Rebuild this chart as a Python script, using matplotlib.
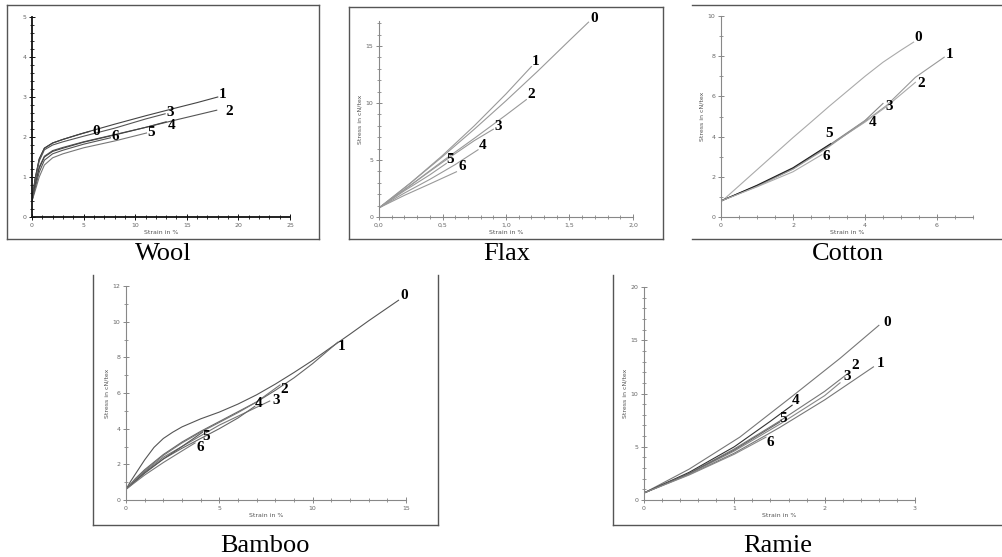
import numpy as np
import matplotlib.pyplot as plt
from matplotlib.lines import Line2D
from matplotlib.ticker import MultipleLocator

W, H = 1002, 557
curve_ids = ['0', '1', '2', '3', '4', '5', '6']

# ---- Wool ----
wool_x = [
    [0, 0.3, 0.7, 1.2, 2, 3, 4.5, 5.6],
    [0, 0.3, 0.7, 1.2, 2, 3, 5, 8, 11, 14, 16, 18],
    [0, 0.3, 0.7, 1.2, 2, 3, 5, 8, 11, 14, 17.9],
    [0, 0.3, 0.7, 1.2, 2, 3, 5, 8, 11, 12.9],
    [0, 0.3, 0.7, 1.2, 2, 3, 5, 8, 11, 13],
    [0, 0.3, 0.7, 1.2, 2, 3, 5, 8, 11.1],
    [0, 0.3, 0.7, 1.2, 2, 3, 5, 7.6],
]
wool_y = [
    [0.4, 0.95, 1.45, 1.72, 1.85, 1.94, 2.06, 2.14],
    [0.4, 0.95, 1.45, 1.72, 1.85, 1.94, 2.1, 2.32, 2.53, 2.73, 2.86, 3.0],
    [0.4, 0.8, 1.25, 1.52, 1.66, 1.74, 1.88, 2.06, 2.24, 2.43, 2.67],
    [0.4, 0.92, 1.4, 1.68, 1.8, 1.88, 2.02, 2.22, 2.45, 2.58],
    [0.4, 0.8, 1.22, 1.5, 1.64, 1.72, 1.87, 2.05, 2.24, 2.38],
    [0.4, 0.65, 1.0, 1.3, 1.48, 1.58, 1.73, 1.9, 2.1],
    [0.4, 0.72, 1.12, 1.42, 1.58, 1.67, 1.82, 1.98],
]

# ---- Flax ----
flax_x = [
    [0, 0.25, 0.5, 0.75, 1.0, 1.25, 1.5, 1.65],
    [0, 0.25, 0.5, 0.75, 1.0, 1.2],
    [0, 0.25, 0.5, 0.75, 1.0, 1.16],
    [0, 0.25, 0.5, 0.75, 0.9],
    [0, 0.2, 0.4, 0.6, 0.78],
    [0, 0.2, 0.4, 0.53],
    [0, 0.2, 0.4, 0.61],
]
flax_y = [
    [0.8, 3.0, 5.3, 7.7, 10.2, 12.8, 15.5, 17.1],
    [0.8, 3.0, 5.4, 8.0, 10.8, 13.2],
    [0.8, 2.8, 4.9, 6.9, 8.95, 10.3],
    [0.8, 2.8, 4.8, 6.7, 7.7],
    [0.8, 2.1, 3.3, 4.6, 5.9],
    [0.8, 2.3, 3.7, 4.7],
    [0.8, 1.9, 2.9, 3.97],
]

# ---- Cotton ----
cotton_x = [
    [0, 0.5, 1, 1.5, 2, 2.5, 3, 3.5, 4, 4.5, 5, 5.35],
    [0, 1, 2, 3, 4, 4.6, 5.4, 6.2],
    [0, 1, 2, 3, 4, 4.6, 5.4],
    [0, 1, 2, 3, 4, 4.5],
    [0, 1, 2, 3, 4.05],
    [0, 1, 2, 3.05],
    [0, 1, 2, 2.8],
]
cotton_y = [
    [0.75, 1.55, 2.35, 3.15, 3.95, 4.72, 5.5, 6.25, 7.0, 7.7, 8.3, 8.7],
    [0.8, 1.55, 2.4, 3.55, 4.75, 5.55, 6.95, 7.95],
    [0.8, 1.55, 2.4, 3.55, 4.72, 5.5, 6.7],
    [0.8, 1.55, 2.42, 3.57, 4.8, 5.65],
    [0.8, 1.52, 2.38, 3.5, 4.85],
    [0.8, 1.58, 2.45, 3.65],
    [0.8, 1.5, 2.25, 3.1],
]

# ---- Bamboo ----
bamboo_x = [
    [0, 0.25, 0.5, 1.0, 1.5, 2.0, 2.5, 3.0, 4.0, 5.0, 6.0, 7.0, 8.0, 9.0,
     10.0, 11.0, 12.0, 13.0, 14.6],
    [0, 0.5, 1, 2, 3, 4, 5, 6, 7, 8, 9, 10, 11.35],
    [0, 0.5, 1, 2, 3, 4, 5, 6, 7, 8.25],
    [0, 1, 2, 3, 4, 5, 6, 7.7],
    [0, 1, 2, 3, 4, 5, 6, 6.9],
    [0, 1, 2, 3, 4.1],
    [0, 1, 2, 3, 3.7],
]
bamboo_y = [
    [0.6, 1.05, 1.45, 2.25, 2.95, 3.45, 3.8, 4.1, 4.55, 4.93, 5.38, 5.9,
     6.5, 7.15, 7.83, 8.57, 9.3, 10.05, 11.2],
    [0.6, 1.2, 1.7, 2.55, 3.25, 3.85, 4.4, 4.95, 5.5, 6.15, 6.85, 7.65, 8.85],
    [0.6, 1.15, 1.65, 2.5, 3.2, 3.8, 4.35, 4.9, 5.5, 6.45],
    [0.6, 1.6, 2.4, 3.0, 3.6, 4.2, 4.7, 5.55],
    [0.6, 1.55, 2.3, 2.9, 3.45, 4.0, 4.6, 5.25],
    [0.6, 1.5, 2.3, 3.0, 3.8],
    [0.6, 1.4, 2.1, 2.75, 3.2],
]

# ---- Ramie ----
ramie_x = [
    [0, 0.5, 1.06, 1.62, 2.17, 2.6],
    [0, 0.5, 1.0, 1.5, 2.0, 2.54],
    [0, 0.5, 1.0, 1.5, 2.0, 2.26],
    [0, 0.5, 1.0, 1.5, 2.0, 2.17],
    [0, 0.5, 1.0, 1.4, 1.64],
    [0, 0.5, 1.0, 1.5],
    [0, 0.5, 1.0, 1.35],
]
ramie_y = [
    [0.66, 2.9, 5.9, 9.6, 13.3, 16.4],
    [0.66, 2.4, 4.4, 6.8, 9.4, 12.5],
    [0.66, 2.5, 4.8, 7.4, 10.2, 11.9],
    [0.66, 2.45, 4.6, 7.1, 9.8, 11.0],
    [0.66, 2.6, 5.0, 7.4, 8.9],
    [0.66, 2.5, 4.7, 7.3],
    [0.66, 2.35, 4.3, 5.9],
]

flax_xticklabels = ['0,0', '0,5', '1,0', '1,5', '2,0']


def fx(px):
    return px / W


def fy(py):
    return 1 - py / H


def frame_line(fig, x0, y0, x1, y1):
    fig.add_artist(Line2D([fx(x0), fx(x1)], [fy(y0), fy(y1)],
                          transform=fig.transFigure, color='#555555', lw=1.0))


def draw_panel(ax, xs, ys, xlim, ylim, xmaj, xmin, ymaj, ymin, offsets,
               colors, ylabel=True, spine_color='#888888', spine_lw=0.8):
    for i, (x, y) in enumerate(zip(xs, ys)):
        ax.plot(x, y, color=colors[i], lw=0.8)
        ax.annotate(curve_ids[i], (x[-1], y[-1]), xytext=offsets[i],
                    textcoords='offset pixels', ha='center', va='center',
                    fontsize=11, fontweight='bold', family='Liberation Serif')
    ax.set_xlim(*xlim)
    ax.set_ylim(*ylim)
    ax.xaxis.set_major_locator(MultipleLocator(xmaj))
    ax.xaxis.set_minor_locator(MultipleLocator(xmin))
    ax.yaxis.set_major_locator(MultipleLocator(ymaj))
    ax.yaxis.set_minor_locator(MultipleLocator(ymin))
    for s in ['top', 'right']:
        ax.spines[s].set_visible(False)
    for s in ['left', 'bottom']:
        ax.spines[s].set_color(spine_color)
        ax.spines[s].set_linewidth(spine_lw)
    ax.tick_params(which='major', direction='inout', length=4, width=0.7,
                   color=spine_color, labelsize=4.5, labelcolor='#666666', pad=2)
    ax.tick_params(which='minor', direction='inout', length=3, width=0.6,
                   color=spine_color)
    ax.set_xlabel('Strain in %', fontsize=4.5, color='#555555', labelpad=2)
    if ylabel:
        ax.set_ylabel('Stress in cN/tex', fontsize=4.5, color='#555555', labelpad=2)
    ax.patch.set_alpha(0)


fig = plt.figure(figsize=(10.02, 5.57), dpi=100)

# frames around the panels
frame_line(fig, 7, 5, 319, 5)
frame_line(fig, 7, 239, 319, 239)
frame_line(fig, 7, 5, 7, 239)
frame_line(fig, 319, 5, 319, 239)
frame_line(fig, 349, 7, 663, 7)
frame_line(fig, 349, 239, 663, 239)
frame_line(fig, 349, 7, 349, 239)
frame_line(fig, 663, 7, 663, 239)
frame_line(fig, 692, 5, 1002, 5)
frame_line(fig, 692, 239, 1002, 239)
frame_line(fig, 93, 275, 93, 525)
frame_line(fig, 438, 275, 438, 525)
frame_line(fig, 93, 525, 438, 525)
frame_line(fig, 613, 275, 613, 525)
frame_line(fig, 613, 525, 1002, 525)

ax_wool = fig.add_axes([fx(32), fy(217), (290 - 32) / W, (217 - 17) / H])
draw_panel(ax_wool, wool_x, wool_y, (0, 25), (0, 5), 5, 1, 1, 0.2,
           [(6, 0), (5, 3), (12, -1), (5, 1), (5, -4), (5, 0), (5, 1)],
           ['#333333', '#444444', '#555555', '#555555', '#444444', '#777777', '#555555'],
           ylabel=False, spine_color='#111111', spine_lw=1.3)

ax_flax = fig.add_axes([fx(379), fy(217), (633 - 379) / W, (217 - 21) / H])
draw_panel(ax_flax, flax_x, flax_y, (0, 2), (0, 17.2), 0.5, 0.1, 5, 1,
           [(6, 4), (4, 5), (5, 5), (5, 3), (5, 4), (4, 4), (6, 5)],
           ['#999999'] * 7)
ax_flax.set_xticks([0, 0.5, 1.0, 1.5, 2.0])
ax_flax.set_xticklabels(flax_xticklabels)

ax_cotton = fig.add_axes([fx(721), fy(217), (973 - 721) / W, (217 - 16) / H])
draw_panel(ax_cotton, cotton_x, cotton_y, (0, 7), (0, 10), 2, 0.5, 2, 1,
           [(5, 5), (5, 3), (6, -1), (6, -3), (6, -3), (-2, 10), (5, -2)],
           ['#aaaaaa', '#999999', '#aaaaaa', '#888888', '#999999', '#222222', '#aaaaaa'])

ax_bamboo = fig.add_axes([fx(126), fy(500), (406 - 126) / W, (500 - 286) / H])
draw_panel(ax_bamboo, bamboo_x, bamboo_y, (0, 15), (0, 12), 5, 1, 2, 1,
           [(6, 5), (4, -4), (4, -5), (6, 1), (4, 3), (4, -4), (5, -5)],
           ['#555555', '#666666', '#777777', '#777777', '#666666', '#555555', '#777777'])

ax_ramie = fig.add_axes([fx(644), fy(500), (915 - 644) / W, (500 - 287) / H])
draw_panel(ax_ramie, ramie_x, ramie_y, (0, 3), (0, 20), 1, 0.2, 5, 1,
           [(8, 3), (7, 3), (7, 8), (7, 6), (3, 5), (4, 4), (4, -5)],
           ['#777777', '#777777', '#777777', '#888888', '#333333', '#666666', '#888888'])

# captions
captions = ['Wool', 'Flax', 'Cotton', 'Bamboo', 'Ramie']
cap_pos = [(163, 260), (507, 260), (848, 260), (265, 552), (778, 552)]
for name, (px, py) in zip(captions, cap_pos):
    fig.text(fx(px), fy(py), name, ha='center', va='baseline',
             fontsize=19, family='Liberation Serif')

fig.savefig('out.png', dpi=100)
